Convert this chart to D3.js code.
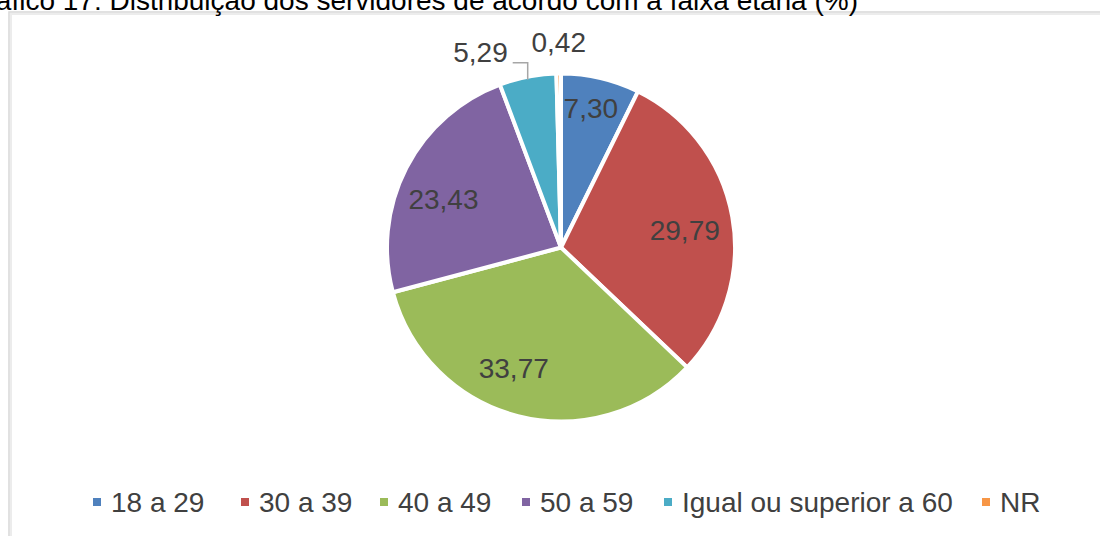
<!DOCTYPE html>
<html><head><meta charset="utf-8">
<script src="https://cdn.jsdelivr.net/npm/d3@7"></script>
<style>
html,body{margin:0;padding:0;background:#fff;}
svg{display:block;font-family:"Liberation Sans",Arial,sans-serif;}
</style></head>
<body><svg id="c" width="1100" height="536"></svg>
<script>
const categories = ["18 a 29","30 a 39","40 a 49","50 a 59","Igual ou superior a 60","NR"];
const values = [7.30, 29.79, 33.77, 23.43, 5.29, 0.42];
const labels = ["7,30","29,79","33,77","23,43","5,29","0,42"];
const colors = ["#4F81BD","#C0504D","#9BBB59","#8064A2","#4BACC6","#F79646"];
const title = "Gráfico 17: Distribuição dos servidores de acordo com a faixa etária (%)";

const svg = d3.select("#c");

// frame
svg.append("rect").attr("x",10).attr("y",13).attr("width",1120).attr("height",540)
  .attr("fill","none").attr("stroke","#ececec").attr("stroke-width",4);
svg.append("rect").attr("x",9).attr("y",12).attr("width",1120).attr("height",540)
  .attr("fill","none").attr("stroke","#d6d6d6").attr("stroke-width",1);

// title (cropped at top, as in the reference)
svg.append("text").attr("x",858).attr("y",10).attr("text-anchor","end")
  .attr("font-size",28).attr("fill","#000").text(title);

const cx = 561, cy = 247.5, R = 174;
const g = svg.append("g").attr("transform",`translate(${cx},${cy})`);
const pie = d3.pie().sort(null).value(d=>d)(values);
const arc = d3.arc().innerRadius(0).outerRadius(R);

g.selectAll("path").data(pie).join("path")
  .attr("d",arc).attr("fill",(d,i)=>colors[i])
  .attr("stroke","#fff").attr("stroke-width",4).attr("stroke-linejoin","miter");

// inside labels
const labelR = [142,125,130,127];
const labelShift = [-1,2,7,-5]; // angular nudges (deg)
pie.forEach((d,i)=>{
  if(i>3) return;
  const a = (d.startAngle+d.endAngle)/2 + labelShift[i]*Math.PI/180;
  const x = Math.sin(a)*labelR[i], y = -Math.cos(a)*labelR[i];
  g.append("text").attr("x",x).attr("y",y).attr("dy","0.35em")
   .attr("text-anchor","middle").attr("font-size",28).attr("fill","#404040")
   .text(labels[i]);
});

// outside labels
{
  const d = pie[4];
  const a = (d.startAngle+d.endAngle)/2;
  const px = Math.sin(a)*R, py = -Math.cos(a)*R;
  const ly = py - 14;
  g.append("path").attr("d",`M${px},${py+3}V${ly}H${px-15}`)
    .attr("fill","none").attr("stroke","#a6a6a6").attr("stroke-width",1.5);
  g.append("text").attr("x",px-20).attr("y",ly).attr("dy","-0.03em")
    .attr("text-anchor","end").attr("font-size",28).attr("fill","#404040").text(labels[4]);
}
{
  const d = pie[5];
  const a = (d.startAngle+d.endAngle)/2;
  const px = Math.sin(a)*R;
  g.append("text").attr("x",px).attr("y",-R-20).attr("dy","-0.05em")
    .attr("text-anchor","middle").attr("font-size",28).attr("fill","#404040").text(labels[5]);
}

// legend
const legX = [111,259,398,540,682,1000];
const lg = svg.append("g");
categories.forEach((c,i)=>{
  lg.append("rect").attr("x",legX[i]-18).attr("y",498).attr("width",8).attr("height",8)
    .attr("fill",colors[i]);
  lg.append("text").attr("x",legX[i]).attr("y",512).attr("font-size",28)
    .attr("fill","#404040").text(c);
});
</script></body></html>
